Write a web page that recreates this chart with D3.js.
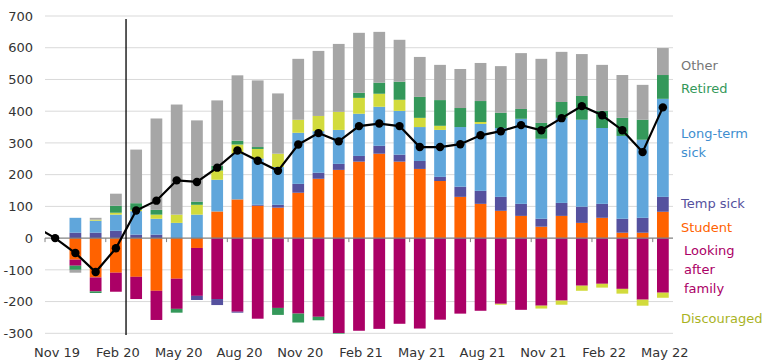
<!DOCTYPE html>
<html>
<head>
<meta charset="utf-8">
<script src="https://cdn.jsdelivr.net/npm/d3@7"></script>
<style>
  html, body { margin: 0; padding: 0; background: #fff; }
  svg { display: block; font-family: "DejaVu Sans", sans-serif; }
</style>
</head>
<body>
<svg id="chart" width="768" height="364"></svg>
<script>
// ---------- DATA ----------
const months = ["Nov 19","Dec 19","Jan 20","Feb 20","Mar 20","Apr 20","May 20","Jun 20","Jul 20","Aug 20","Sep 20","Oct 20",
  "Nov 20","Dec 20","Jan 21","Feb 21","Mar 21","Apr 21","May 21","Jun 21","Jul 21","Aug 21","Sep 21","Oct 21",
  "Nov 21","Dec 21","Jan 22","Feb 22","Mar 22","Apr 22","May 22"];
const tickLabels = ["Nov 19","Feb 20","May 20","Aug 20","Nov 20","Feb 21","May 21","Aug 21","Nov 21","Feb 22","May 22"];
const yTicks = [-300,-200,-100,0,100,200,300,400,500,600,700];

const student = [0,-68,-124,-109,-122,-166,-128,-31,84,122,102,96,143,187,215,241,266,241,218,180,130,108,86,70,36,70,48,64,17,17,83];
const lookingAfterFamily = [0,-19,-44,-60,-70,-92,-95,-151,-192,-232,-254,-220,-238,-248,-299,-292,-286,-270,-285,-257,-238,-229,-207,-226,-213,-197,-150,-144,-160,-194,-172];
const tempSick = [0,17,17,23,11,11,0,-13,-19,-3,3,9,28,19,19,18,25,22,25,13,32,41,44,38,25,41,51,44,44,47,47];
const longTermSick = [0,47,38,51,74,50,48,74,100,144,146,119,161,131,107,133,123,138,107,148,188,211,217,268,252,268,274,239,261,246,309];
const discouraged = [0,0,3,6,4,13,26,31,29,29,30,42,41,48,57,50,41,35,29,13,0,6,-3,0,-9,-13,-16,-12,-15,-19,-16];
const retired = [0,-13,-5,22,21,15,-12,10,15,12,6,-22,-28,-11,-2,16,35,57,66,81,60,66,48,31,50,50,75,54,57,63,75];
const other = [0,-9,6,38,169,288,347,256,206,206,210,190,192,205,214,189,160,132,126,111,123,120,147,176,202,158,132,145,135,110,85];

// total line (first value is the month before the axis starts, clipped by the plot edge)
const totalPrev = 37;
const total = [0,-47,-107,-32,87,118,182,177,222,276,244,212,295,331,305,353,361,353,287,287,296,324,337,356,340,378,416,387,340,271,412];

const seriesNames = ["Student","Looking after family","Temp sick","Long-term sick","Discouraged","Retired","Other"];
const seriesValues = [student, lookingAfterFamily, tempSick, longTermSick, discouraged, retired, other];
const barColors = ["#FF6200","#AB0066","#55519E","#60A6DB","#D2DB3C","#34985A","#A6A6A6"];
const textColors = ["#FF6200","#AB0066","#55519E","#3E8ECF","#A9B31F","#34985A","#767676"];

// ---------- LAYOUT ----------
const svg = d3.select("#chart");
const pLeft = 45, pRight = 673, pTop = 16, pBottom = 333.3;

const x = d3.scaleBand().domain(months).range([pLeft, pRight]).paddingInner(0.42).paddingOuter(0.21);
const y = d3.scaleLinear().domain([-300, 700]).range([pBottom, pTop]);
const cx = m => x(m) + x.bandwidth() / 2;

// gridlines
svg.append("g").selectAll("line").data(yTicks.filter(t => t !== 0)).join("line")
  .attr("x1", pLeft).attr("x2", pRight)
  .attr("y1", d => y(d)).attr("y2", d => y(d))
  .attr("stroke", "#D9D9D9").attr("stroke-width", 1);

// y labels
svg.append("g").selectAll("text").data(yTicks).join("text")
  .attr("x", 33).attr("y", d => y(d)).attr("dy", "0.36em")
  .attr("text-anchor", "end").attr("font-size", 13).attr("fill", "#333")
  .text(d => d);

// stacked bars
const table = months.map((m, i) => {
  const row = { month: m };
  seriesNames.forEach((s, j) => row[s] = seriesValues[j][i]);
  return row;
});
const stack = d3.stack().keys(seriesNames).offset(d3.stackOffsetDiverging)(table);

svg.append("g").selectAll("g").data(stack).join("g")
  .attr("fill", (d, i) => barColors[i])
  .selectAll("rect").data(d => d).join("rect")
  .attr("x", d => x(d.data.month))
  .attr("width", x.bandwidth())
  .attr("y", d => y(Math.max(d[0], d[1])))
  .attr("height", d => Math.abs(y(d[0]) - y(d[1])));

// zero axis
svg.append("line").attr("x1", pLeft).attr("x2", pRight).attr("y1", y(0)).attr("y2", y(0))
  .attr("stroke", "#808080").attr("stroke-width", 1.3);
// tick marks between groups of three months
const tickIdx = d3.range(0, months.length + 1, 3);
svg.append("g").selectAll("line").data(tickIdx).join("line")
  .attr("x1", i => cx(months[0]) + (i - 0.5) * x.step())
  .attr("x2", i => cx(months[0]) + (i - 0.5) * x.step())
  .attr("y1", y(0)).attr("y2", y(0) + 4)
  .attr("stroke", "#808080").attr("stroke-width", 1);

// x labels
svg.append("g").selectAll("text").data(tickLabels).join("text")
  .attr("x", d => cx(d) + 2).attr("y", 357)
  .attr("text-anchor", "middle").attr("font-size", 13).attr("fill", "#333")
  .text(d => d);

// vertical marker between Feb 20 and Mar 20
const vx = (cx("Feb 20") + cx("Mar 20")) / 2;
svg.append("line").attr("x1", vx).attr("x2", vx).attr("y1", 19).attr("y2", 335)
  .attr("stroke", "#000").attr("stroke-width", 1.3);

// total line
svg.append("defs").append("clipPath").attr("id", "plotclip")
  .append("rect").attr("x", pLeft).attr("y", 0).attr("width", pRight - pLeft).attr("height", 364);
const linePts = [[cx(months[0]) - x.step(), totalPrev]].concat(months.map((m, i) => [cx(m), total[i]]));
svg.append("path")
  .attr("clip-path", "url(#plotclip)")
  .attr("d", d3.line().x(d => d[0]).y(d => y(d[1]))(linePts))
  .attr("fill", "none").attr("stroke", "#000").attr("stroke-width", 2.2);
svg.append("g").selectAll("circle").data(months).join("circle")
  .attr("cx", d => cx(d)).attr("cy", (d, i) => y(total[i])).attr("r", 4.2)
  .attr("fill", "#000");

// right-hand labels
const labelLines = [
  { s: 6, lines: ["Other"], y: 65, x: 681 },
  { s: 5, lines: ["Retired"], y: 88, x: 681 },
  { s: 3, lines: ["Long-term", "sick"], y: 133, x: 681 },
  { s: 2, lines: ["Temp sick"], y: 203, x: 681 },
  { s: 0, lines: ["Student"], y: 227, x: 681 },
  { s: 1, lines: ["Looking", "after", "family"], y: 250, x: 684 },
  { s: 4, lines: ["Discouraged"], y: 318, x: 681 }
];
const lg = svg.append("g");
labelLines.forEach(l => {
  const t = lg.append("text").attr("font-size", 13).attr("fill", textColors[l.s]);
  l.lines.forEach((ln, k) => {
    t.append("tspan").attr("x", l.x).attr("y", l.y + k * 19).attr("dy", "0.36em").text(ln);
  });
});
</script>
</body>
</html>
